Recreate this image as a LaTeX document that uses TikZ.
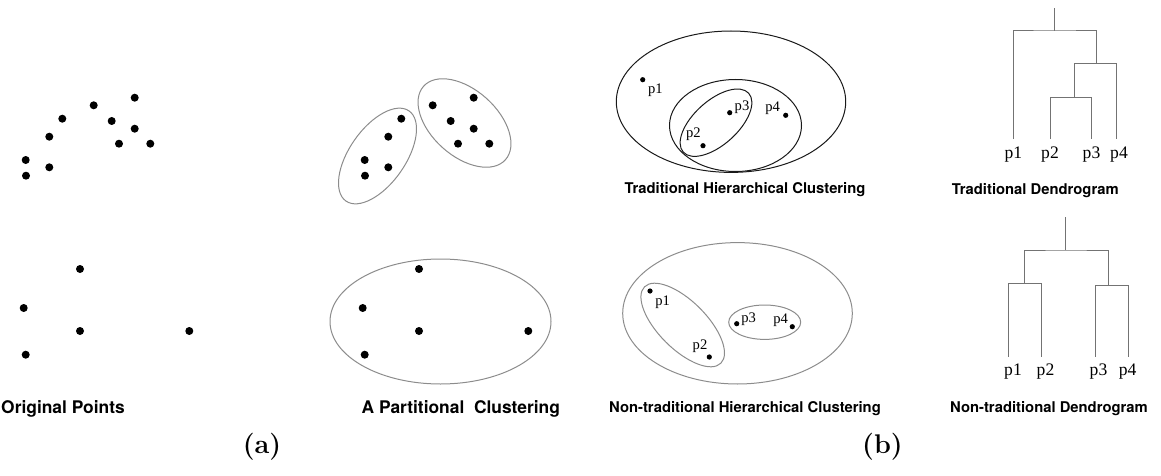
\documentclass[tikz,border=0pt]{standalone}
\usepackage{fontspec}
\newfontfamily\headfont{TeX Gyre Heros}
\newfontfamily\ptfont{Liberation Serif}
\usetikzlibrary{positioning}

\begin{document}
\begin{tikzpicture}[x=0.5pt,y=-0.5pt,
	  dot/.style={circle,fill=black,inner sep=0pt,minimum size=4pt},
	  small dot/.style={circle,fill=black,inner sep=0pt,minimum size=2.6pt},
	  ring/.style={draw=black!45,line width=0.5pt},
	  dark ring/.style={draw=black!90,line width=0.5pt},
	  dendro/.style={draw=black!55,line width=0.5pt},
	  head a/.style={font=\headfont\bfseries\fontsize{8.7}{10}\selectfont,inner sep=0pt},
	  head b/.style={font=\headfont\bfseries\fontsize{7.4}{9}\selectfont,inner sep=0pt},
	  plabel/.style={font=\ptfont\fontsize{7.3}{8}\selectfont,inner sep=0pt},
	  leaf/.style={font=\ptfont\fontsize{8.8}{10}\selectfont,inner sep=0pt},
	  tag/.style={font=\bfseries\fontsize{13.5}{15}\selectfont,inner sep=0pt}]

	  \useasboundingbox (0,0) rectangle (1161,476);

	  % (a) original points and the partitional clustering
	  \foreach \px/\py [count=\i] in {25.7/160,26/175.7,49.3/136.7,49.3/167.3,62.3/118.7,
	      93.7/105.3,134.7/97.7,111.7/121,134.7/128.7,119/143.7,150.3/143.7} {
	    \node[dot] (o\i) at (\px,\py) {};
	    \node[dot] (c\i) at (\px+339,\py) {};
	  }
	  \draw[ring,rotate around={55:(377.5,156)}] (377.5,156) ellipse [x radius=55, y radius=28];
	  \draw[ring,rotate around={-42:(464.5,123)}] (464.5,123) ellipse [x radius=55, y radius=33];

	  \foreach \px/\py [count=\i] in {80/269,23.7/308,80/331,189.3/331,25.7/354.7} {
	    \node[dot] (q\i) at (\px,\py) {};
	    \node[dot] (r\i) at (\px+339,\py) {};
	  }
	  \draw[ring] (440.5,321.5) ellipse [x radius=110.5, y radius=62.5];

	  \node[head a] (orig) at (63,409) {Original Points};
	  \node[head a] (part) at (460.8,409) {A Partitional\ \ Clustering};
	  \node[tag] (a) at (262,447) {(a)};

	  % (b) traditional hierarchical clustering
	  \draw[dark ring] (731,101.7) ellipse [x radius=114.7, y radius=70.7];
	  \draw[dark ring] (735.5,125.5) ellipse [x radius=66, y radius=46];
	  \draw[dark ring,rotate around={42:(716,122.7)}] (716,122.7) ellipse [x radius=44, y radius=22];
	  \node[small dot] (tp1) at (642.7,79.7) {};
	  \node[small dot] (tp2) at (703,145.7) {};
	  \node[small dot] (tp3) at (729.7,112.7) {};
	  \node[small dot] (tp4) at (785.7,115.3) {};
	  \node[plabel] at (655.3,90.7) {p1};
	  \node[plabel] at (693.3,134.3) {p2};
	  \node[plabel] at (742,107.3) {p3};
	  \node[plabel] at (772.7,108.3) {p4};
	  \node[head b] (thc) at (745,190) {Traditional Hierarchical Clustering};

	  % traditional dendrogram
	  \coordinate (t1) at (1013.7,139);
	  \coordinate (t2) at (1050,139);
	  \coordinate (t3) at (1091.7,139);
	  \coordinate (t4) at (1116.7,139);
	  \coordinate (m23) at (1074.7,97.3);
	  \coordinate (m234) at (1096.3,63.3);
	  \coordinate (troot) at (1054.3,31);
	  \coordinate (ttop) at (1054.3,7.7);
	  \draw[dendro] (t2) |- (m23) -| (t3);
	  \draw[dendro] (m23) |- (m234) -| (t4);
	  \draw[dendro] (t1) |- (troot) -| (m234);
	  \draw[dendro] (troot) -- (ttop);
	  \node[leaf] at (1013.3,155) {p1};
	  \node[leaf] at (1050,155) {p2};
	  \node[leaf] at (1091.5,155) {p3};
	  \node[leaf] at (1119,155) {p4};
	  \node[head b] (tden) at (1035.3,190.7) {Traditional Dendrogram};

	  % non-traditional hierarchical clustering
	  \draw[ring] (737.5,313.3) ellipse [x radius=114.8, y radius=70.7];
	  \draw[ring,rotate around={-45:(682.7,325)}] (682.7,325) ellipse [x radius=54, y radius=24];
	  \draw[ring] (764.7,322.2) ellipse [x radius=36, y radius=17.2];
	  \node[small dot] (np1) at (650,291) {};
	  \node[small dot] (np2) at (709.3,357) {};
	  \node[small dot] (np3) at (736.7,323.7) {};
	  \node[small dot] (np4) at (792.3,326.7) {};
	  \node[plabel] at (662.7,302) {p1};
	  \node[plabel] at (700,346.7) {p2};
	  \node[plabel] at (748.7,319) {p3};
	  \node[plabel] at (780.7,320.3) {p4};
	  \node[head b] (nhc) at (745,409) {Non-traditional Hierarchical Clustering};

	  % non-traditional dendrogram
	  \coordinate (s1) at (1008.7,356.7);
	  \coordinate (s2) at (1041.7,356.7);
	  \coordinate (s3) at (1095.3,356.7);
	  \coordinate (s4) at (1128.3,356.7);
	  \coordinate (n12) at (1024.3,283.3);
	  \coordinate (n34) at (1108,285.3);
	  \coordinate (nroot) at (1065.7,250);
	  \coordinate (ntop) at (1065.7,216.7);
	  \draw[dendro] (s1) |- (n12) -| (s2);
	  \draw[dendro] (s3) |- (n34) -| (s4);
	  \draw[dendro] (n12) |- (nroot) -| (n34);
	  \draw[dendro] (nroot) -- (ntop);
	  \node[leaf] at (1013,371.7) {p1};
	  \node[leaf] at (1045.5,371.7) {p2};
	  \node[leaf] at (1098.5,371.7) {p3};
	  \node[leaf] at (1127.7,371.7) {p4};
	  \node[head b] (nden) at (1049,409) {Non-traditional Dendrogram};
	  \node[tag] (b) at (882.5,447) {(b)};
\end{tikzpicture}
\end{document}
